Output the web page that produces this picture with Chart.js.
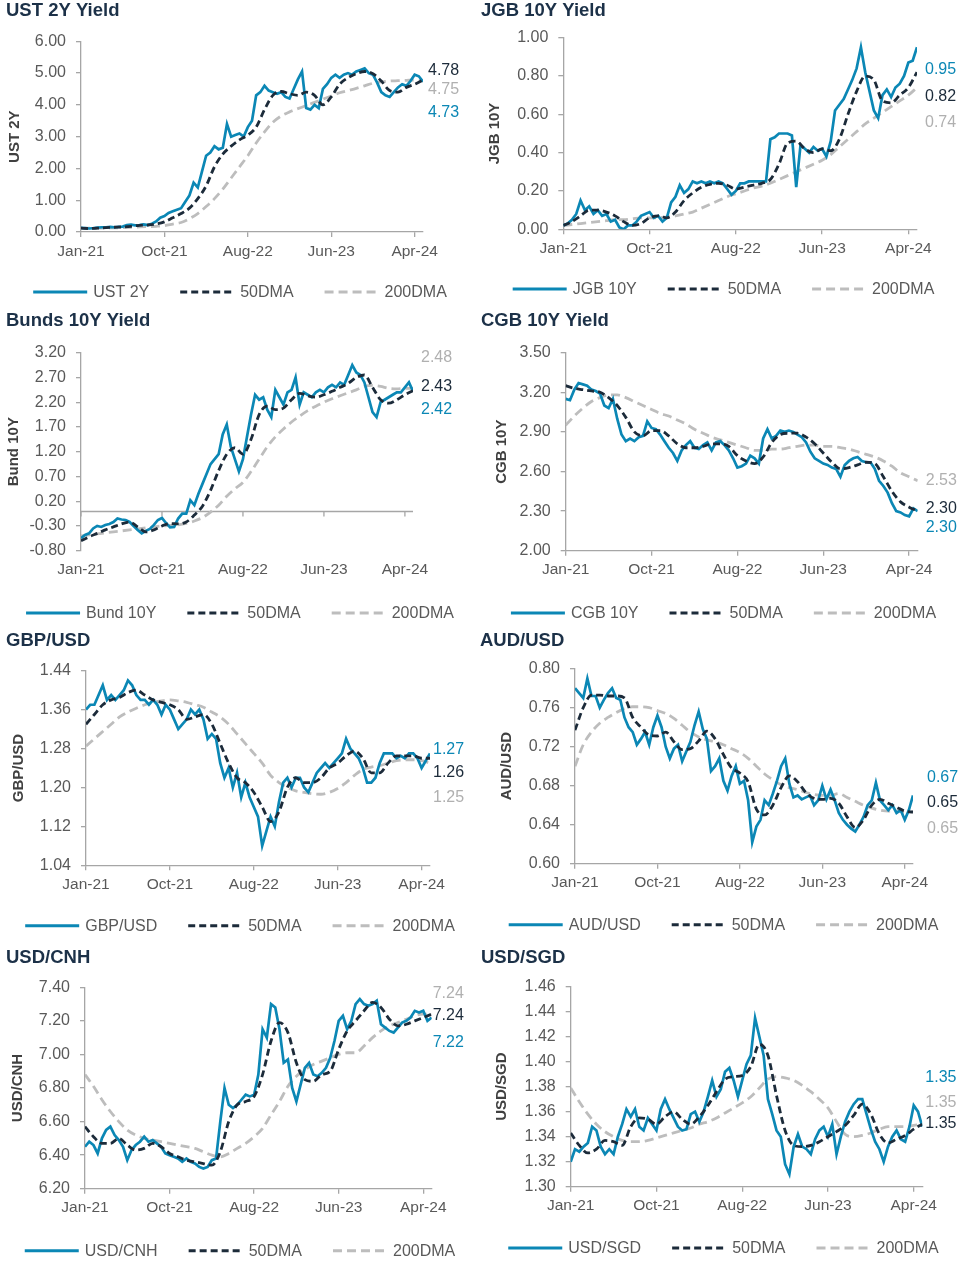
<!DOCTYPE html>
<html><head><meta charset="utf-8">
<script src="https://cdn.jsdelivr.net/npm/chart.js@4.4.1/dist/chart.umd.min.js"></script>
<style>
html,body{margin:0;padding:0;background:#fff;}
body{width:969px;height:1273px;position:relative;overflow:hidden;}
.p{position:absolute;}
</style></head><body>
<div id="wrap"></div>
<script>
// ---------- tick labels (x axis, one every 20 points) ----------
const xTickLabels = ['Jan-21','Oct-21','Aug-22','Jun-23','Apr-24'];

// ---------- UST 2Y ----------
const ust2y = [0.13,0.12,0.11,0.12,0.14,0.15,0.15,0.16,0.15,0.16,
 0.17,0.22,0.23,0.21,0.22,0.24,0.22,0.26,0.33,0.45,
 0.50,0.60,0.65,0.70,0.75,0.95,1.15,1.55,1.40,1.90,
 2.40,2.50,2.70,2.60,2.65,3.40,3.00,3.05,3.10,3.00,
 3.30,3.50,4.30,4.40,4.60,4.45,4.40,4.35,4.40,4.25,
 4.20,4.50,4.80,5.05,3.90,3.85,4.00,3.90,4.50,4.65,
 4.85,4.95,4.85,4.95,5.00,4.95,5.05,5.10,5.15,5.00,
 4.95,4.70,4.40,4.30,4.25,4.40,4.55,4.65,4.60,4.75,
 4.95,4.90,4.73];
const ust2y50 = [0.12,0.11,0.12,0.14,0.15,0.16,0.18,0.21,0.22,0.25,
 0.32,0.45,0.58,0.75,1.05,1.45,2.05,2.45,2.70,2.90,
 3.05,3.30,3.85,4.30,4.42,4.35,4.30,4.40,4.30,4.00,
 4.25,4.65,4.85,4.98,5.05,4.98,4.75,4.45,4.40,4.55,
 4.65,4.78];
const ust2y200 = [0.12,0.12,0.12,0.13,0.13,0.14,0.15,0.16,0.17,0.18,
 0.20,0.25,0.30,0.42,0.58,0.80,1.05,1.35,1.70,2.05,
 2.40,2.80,3.15,3.45,3.65,3.78,3.88,3.98,4.08,4.18,
 4.28,4.38,4.45,4.52,4.60,4.68,4.72,4.75,4.76,4.77,
 4.78,4.75];

// ---------- JGB 10Y ----------
const jgb10y = [0.02,0.03,0.05,0.08,0.15,0.10,0.12,0.08,0.10,0.07,
 0.08,0.04,0.05,0.01,0.00,0.02,0.02,0.04,0.07,0.08,
 0.09,0.06,0.07,0.04,0.06,0.14,0.17,0.23,0.19,0.21,
 0.25,0.24,0.25,0.24,0.25,0.24,0.25,0.24,0.21,0.18,
 0.20,0.24,0.24,0.25,0.25,0.25,0.25,0.25,0.47,0.48,
 0.50,0.50,0.50,0.49,0.22,0.44,0.42,0.40,0.43,0.41,
 0.42,0.38,0.46,0.62,0.65,0.68,0.73,0.78,0.84,0.95,
 0.82,0.72,0.62,0.58,0.70,0.73,0.69,0.74,0.76,0.80,
 0.87,0.88,0.95];
const jgb10y50 = [0.02,0.04,0.07,0.10,0.10,0.09,0.07,0.04,0.02,0.03,
 0.06,0.07,0.06,0.09,0.15,0.19,0.22,0.235,0.24,0.23,
 0.21,0.22,0.23,0.24,0.26,0.34,0.45,0.46,0.42,0.40,
 0.42,0.41,0.47,0.60,0.72,0.80,0.78,0.67,0.66,0.70,
 0.74,0.82];
const jgb10y200 = [0.02,0.025,0.03,0.035,0.04,0.045,0.05,0.05,0.055,0.06,
 0.06,0.06,0.065,0.07,0.08,0.09,0.11,0.13,0.15,0.17,
 0.185,0.20,0.215,0.225,0.24,0.26,0.28,0.30,0.32,0.34,
 0.36,0.39,0.43,0.47,0.51,0.55,0.58,0.61,0.64,0.67,
 0.70,0.74];

// ---------- Bund 10Y ----------
const bund10y = [-0.55,-0.48,-0.45,-0.35,-0.30,-0.32,-0.28,-0.26,-0.22,-0.15,
 -0.17,-0.18,-0.22,-0.30,-0.38,-0.45,-0.40,-0.36,-0.28,-0.18,
 -0.14,-0.24,-0.33,-0.32,-0.15,-0.05,-0.05,0.22,0.12,0.35,
 0.55,0.75,0.95,1.05,1.15,1.55,1.75,1.30,1.05,0.80,
 1.05,1.50,1.95,2.35,2.25,2.30,2.05,1.90,2.45,2.30,
 2.15,2.40,2.45,2.70,2.15,2.40,2.35,2.30,2.40,2.45,
 2.40,2.50,2.55,2.50,2.60,2.55,2.75,2.95,2.80,2.75,
 2.60,2.30,2.00,1.90,2.20,2.25,2.30,2.35,2.40,2.40,
 2.50,2.60,2.42];
const bund10y50 = [-0.60,-0.52,-0.45,-0.38,-0.32,-0.26,-0.22,-0.32,-0.42,-0.38,
 -0.30,-0.25,-0.26,-0.22,-0.08,0.10,0.42,0.82,1.15,1.28,
 1.15,1.45,1.95,2.12,2.05,2.08,2.25,2.38,2.33,2.30,
 2.35,2.42,2.50,2.58,2.70,2.75,2.50,2.25,2.18,2.25,
 2.35,2.43];
const bund10y200 = [-0.50,-0.48,-0.46,-0.44,-0.42,-0.40,-0.38,-0.36,-0.34,-0.32,
 -0.30,-0.29,-0.28,-0.25,-0.20,-0.13,-0.02,0.12,0.30,0.45,
 0.58,0.80,1.05,1.30,1.50,1.66,1.80,1.92,2.03,2.12,
 2.20,2.27,2.33,2.39,2.45,2.52,2.54,2.52,2.48,2.47,
 2.48,2.48];

// ---------- CGB 10Y ----------
const cgb10y = [3.15,3.14,3.22,3.27,3.26,3.25,3.22,3.21,3.19,3.10,
 3.08,3.15,3.00,2.88,2.83,2.85,2.83,2.86,2.87,2.98,
 2.93,2.92,2.88,2.83,2.78,2.74,2.68,2.76,2.80,2.83,
 2.78,2.77,2.80,2.82,2.76,2.82,2.83,2.80,2.76,2.70,
 2.63,2.64,2.66,2.72,2.70,2.66,2.85,2.92,2.85,2.87,
 2.91,2.90,2.91,2.90,2.88,2.86,2.82,2.75,2.70,2.68,
 2.66,2.65,2.63,2.62,2.56,2.65,2.68,2.70,2.71,2.68,
 2.67,2.67,2.62,2.53,2.49,2.44,2.36,2.30,2.29,2.27,
 2.26,2.32,2.30];
const cgb10y50 = [3.25,3.23,3.22,3.21,3.20,3.16,3.10,3.01,2.90,2.87,
 2.91,2.91,2.87,2.81,2.78,2.78,2.79,2.81,2.81,2.79,
 2.72,2.68,2.66,2.71,2.82,2.88,2.89,2.89,2.86,2.81,
 2.74,2.67,2.62,2.63,2.65,2.67,2.66,2.56,2.45,2.37,
 2.33,2.30];
const cgb10y200 = [2.95,3.02,3.08,3.13,3.16,3.18,3.18,3.16,3.13,3.10,
 3.07,3.04,3.02,2.99,2.96,2.92,2.89,2.86,2.84,2.82,
 2.80,2.78,2.76,2.76,2.77,2.77,2.78,2.79,2.80,2.80,
 2.79,2.79,2.78,2.77,2.75,2.73,2.71,2.68,2.64,2.59,
 2.56,2.53];

// ---------- GBP/USD ----------
const gbpusd = [1.36,1.37,1.37,1.39,1.41,1.38,1.39,1.38,1.39,1.40,
 1.42,1.41,1.39,1.38,1.38,1.37,1.38,1.37,1.35,1.37,
 1.36,1.34,1.32,1.33,1.34,1.36,1.35,1.36,1.34,1.30,
 1.31,1.30,1.25,1.22,1.24,1.20,1.23,1.18,1.21,1.18,
 1.16,1.14,1.08,1.11,1.14,1.12,1.17,1.21,1.22,1.20,
 1.22,1.22,1.20,1.19,1.21,1.23,1.24,1.25,1.24,1.25,
 1.26,1.27,1.30,1.28,1.27,1.26,1.24,1.21,1.21,1.22,
 1.25,1.27,1.27,1.27,1.26,1.265,1.26,1.27,1.27,1.26,
 1.24,1.255,1.27];
const gbpusd50 = [1.33,1.35,1.37,1.38,1.385,1.395,1.40,1.39,1.38,1.375,
 1.37,1.36,1.34,1.345,1.35,1.33,1.29,1.25,1.22,1.21,
 1.19,1.16,1.13,1.15,1.20,1.22,1.21,1.21,1.22,1.24,
 1.25,1.265,1.275,1.26,1.23,1.23,1.25,1.265,1.265,1.265,
 1.26,1.26];
const gbpusd200 = [1.285,1.30,1.315,1.33,1.345,1.355,1.363,1.37,1.375,1.378,
 1.38,1.378,1.375,1.37,1.365,1.355,1.345,1.33,1.31,1.29,
 1.27,1.25,1.225,1.21,1.20,1.193,1.19,1.187,1.186,1.19,
 1.198,1.21,1.225,1.237,1.242,1.245,1.25,1.255,1.257,1.257,
 1.255,1.25];

// ---------- AUD/USD ----------
const audusd = [0.780,0.775,0.770,0.790,0.772,0.772,0.760,0.768,0.775,0.780,
 0.770,0.768,0.750,0.740,0.735,0.722,0.728,0.735,0.722,0.740,
 0.752,0.740,0.720,0.708,0.718,0.722,0.705,0.715,0.725,0.742,
 0.756,0.738,0.728,0.695,0.700,0.708,0.685,0.675,0.690,0.700,
 0.682,0.685,0.665,0.622,0.638,0.645,0.665,0.660,0.672,0.685,
 0.700,0.708,0.682,0.668,0.670,0.666,0.668,0.670,0.660,0.665,
 0.680,0.666,0.676,0.665,0.652,0.645,0.640,0.636,0.633,0.640,
 0.648,0.660,0.665,0.683,0.665,0.660,0.655,0.660,0.652,0.655,
 0.645,0.655,0.670];
const audusd50 = [0.737,0.760,0.773,0.773,0.772,0.772,0.770,0.750,0.740,0.732,
 0.731,0.735,0.725,0.717,0.718,0.726,0.736,0.728,0.712,0.698,
 0.693,0.684,0.656,0.650,0.660,0.678,0.690,0.684,0.673,0.667,
 0.666,0.667,0.662,0.648,0.637,0.645,0.660,0.666,0.662,0.658,
 0.654,0.653];
const audusd200 = [0.700,0.722,0.735,0.744,0.750,0.755,0.759,0.761,0.761,0.760,
 0.757,0.754,0.749,0.742,0.735,0.730,0.727,0.725,0.722,0.718,
 0.714,0.708,0.700,0.692,0.686,0.681,0.678,0.676,0.673,0.671,
 0.670,0.670,0.672,0.668,0.664,0.660,0.657,0.655,0.654,0.654,
 0.653,0.653];

// ---------- USD/CNH ----------
const usdcnh = [6.45,6.48,6.46,6.41,6.50,6.55,6.57,6.52,6.49,6.45,
 6.37,6.43,6.46,6.48,6.51,6.48,6.49,6.47,6.45,6.41,
 6.40,6.39,6.38,6.36,6.38,6.36,6.35,6.33,6.32,6.33,
 6.37,6.38,6.60,6.80,6.70,6.68,6.70,6.73,6.76,6.75,
 6.76,6.88,7.15,7.10,7.30,7.28,7.15,6.95,6.97,6.80,
 6.72,6.82,6.92,6.95,6.88,6.87,6.89,6.92,6.98,7.08,
 7.20,7.23,7.15,7.20,7.30,7.33,7.30,7.29,7.30,7.32,
 7.18,7.16,7.14,7.13,7.16,7.19,7.20,7.22,7.26,7.25,
 7.26,7.20,7.22];
const usdcnh50 = [6.57,6.51,6.47,6.47,6.50,6.46,6.43,6.44,6.47,6.45,
 6.41,6.39,6.37,6.36,6.35,6.34,6.42,6.60,6.70,6.72,
 6.75,6.88,7.08,7.19,7.13,6.95,6.85,6.84,6.88,6.90,
 7.03,7.14,7.20,7.26,7.31,7.28,7.21,7.17,7.18,7.20,
 7.22,7.24];
const usdcnh200 = [6.88,6.81,6.73,6.66,6.60,6.55,6.52,6.50,6.49,6.48,
 6.47,6.46,6.45,6.44,6.42,6.40,6.39,6.41,6.44,6.47,
 6.51,6.56,6.64,6.72,6.81,6.87,6.91,6.94,6.96,6.98,
 7.00,7.01,7.01,7.05,7.10,7.14,7.17,7.19,7.21,7.23,
 7.24,7.24];

// ---------- USD/SGD ----------
const usdsgd = [1.320,1.330,1.328,1.332,1.335,1.348,1.345,1.332,1.326,1.330,
 1.326,1.340,1.350,1.362,1.356,1.362,1.348,1.345,1.355,1.350,
 1.345,1.362,1.370,1.362,1.355,1.348,1.345,1.346,1.358,1.360,
 1.352,1.360,1.372,1.385,1.372,1.378,1.392,1.395,1.385,1.372,
 1.385,1.398,1.405,1.435,1.420,1.405,1.370,1.358,1.345,1.340,
 1.318,1.310,1.332,1.342,1.332,1.330,1.326,1.338,1.345,1.348,
 1.340,1.350,1.326,1.340,1.352,1.360,1.366,1.370,1.370,1.358,
 1.346,1.336,1.330,1.320,1.332,1.340,1.345,1.338,1.336,1.348,
 1.365,1.360,1.348];
const usdsgd50 = [1.343,1.333,1.327,1.330,1.337,1.336,1.333,1.348,1.355,1.354,
 1.350,1.356,1.360,1.354,1.350,1.356,1.365,1.376,1.386,1.388,
 1.389,1.396,1.414,1.405,1.373,1.345,1.333,1.332,1.333,1.336,
 1.340,1.344,1.349,1.357,1.366,1.358,1.342,1.335,1.338,1.341,
 1.346,1.350];
const usdsgd200 = [1.379,1.368,1.358,1.350,1.344,1.340,1.337,1.336,1.336,1.337,
 1.339,1.341,1.343,1.345,1.347,1.350,1.352,1.355,1.359,1.363,
 1.367,1.372,1.379,1.386,1.388,1.387,1.385,1.381,1.376,1.370,
 1.363,1.352,1.342,1.340,1.341,1.343,1.346,1.348,1.348,1.348,
 1.349,1.350];

// ---------- styling ----------
const BLUE = '#0b87b5', DARK = '#1c2b3a', GRAY = '#bdbdbd';
const LBL_GRAY = '#b0b0b0';
const AXIS = '#a6a6a6', TICK = '#595959', TITLE = '#1c3148';
const FONT = "'Liberation Sans', Arial, Helvetica, sans-serif";
Chart.defaults.font.family = FONT;

// ---------- panels (series + layout) ----------
const panels = [
 {title:'UST 2Y Yield', yTitle:'UST 2Y', name:'UST 2Y', main:ust2y, d50:ust2y50, d200:ust2y200, min:0, max:6, step:1,
  box:{l:0,t:0,w:480,h:310}, plot:{l:81,t:41.3,r:423,b:232}, legendY:292, titleX:6, titleY:11, yTitleX:15, labelDx:5,
  labels:[['d',29],['g',48],['m',71]]},
 {title:'JGB 10Y Yield', yTitle:'JGB 10Y', name:'JGB 10Y', main:jgb10y, d50:jgb10y50, d200:jgb10y200, min:0, max:1, step:0.2,
  box:{l:478,t:0,w:491,h:310}, plot:{l:563.3,t:37.7,r:917,b:229.3}, legendY:289, titleX:481, titleY:11, yTitleX:495, labelDx:8,
  labels:[['m',32],['d',59],['g',85]]},
 {title:'Bunds 10Y Yield', yTitle:'Bund 10Y', name:'Bund 10Y', main:bund10y, d50:bund10y50, d200:bund10y200, min:-0.8, max:3.2, step:0.5,
  box:{l:0,t:310,w:480,h:318}, plot:{l:81,t:352.7,r:413,b:550.7}, legendY:613, titleX:6, titleY:321, yTitleX:14, labelDx:8,
  labels:[['g',5],['d',34],['m',57]], zero:true},
 {title:'CGB 10Y Yield', yTitle:'CGB 10Y', name:'CGB 10Y', main:cgb10y, d50:cgb10y50, d200:cgb10y200, min:2.0, max:3.5, step:0.3,
  box:{l:478,t:310,w:491,h:318}, plot:{l:565.7,t:352.7,r:917.7,b:550.7}, legendY:613, titleX:481, titleY:321, yTitleX:502, labelDx:8,
  labels:[['g',128],['d',156],['m',175]]},
 {title:'GBP/USD', yTitle:'GBP/USD', name:'GBP/USD', main:gbpusd, d50:gbpusd50, d200:gbpusd200, min:1.04, max:1.44, step:0.08,
  box:{l:0,t:628,w:480,h:315}, plot:{l:86,t:670.7,r:430,b:865.3}, legendY:925.7, titleX:6, titleY:641, yTitleX:19, labelDx:3,
  labels:[['m',79],['d',102],['g',127]]},
 {title:'AUD/USD', yTitle:'AUD/USD', name:'AUD/USD', main:audusd, d50:audusd50, d200:audusd200, min:0.60, max:0.80, step:0.04,
  box:{l:478,t:628,w:491,h:315}, plot:{l:575,t:668.7,r:913,b:863.7}, legendY:924.7, titleX:480, titleY:641, yTitleX:506.7, labelDx:14,
  labels:[['m',109],['d',134],['g',160]]},
 {title:'USD/CNH', yTitle:'USD/CNH', name:'USD/CNH', main:usdcnh, d50:usdcnh50, d200:usdcnh200, min:6.2, max:7.4, step:0.2,
  box:{l:0,t:943,w:480,h:330}, plot:{l:85,t:987.3,r:431.7,b:1188.7}, legendY:1250.7, titleX:6, titleY:958, yTitleX:18, labelDx:1,
  labels:[['g',6],['d',28],['m',55]]},
 {title:'USD/SGD', yTitle:'USD/SGD', name:'USD/SGD', main:usdsgd, d50:usdsgd50, d200:usdsgd200, min:1.30, max:1.46, step:0.02,
  box:{l:478,t:943,w:491,h:330}, plot:{l:570.7,t:986.7,r:922.3,b:1186.7}, legendY:1248, titleX:481, titleY:958, yTitleX:501.7, labelDx:3,
  labels:[['m',91],['g',116],['d',137]]}
];

const XH = 40; // x-scale box height

function makeDecor(p) {
  return {
    id: 'decor',
    beforeDatasetsDraw(chart) {
      if (!p.zero) return;
      const {ctx, chartArea: a, scales: {x, y}} = chart;
      const py = Math.round(y.getPixelForValue(0)) + 0.5;
      ctx.save();
      ctx.strokeStyle = AXIS; ctx.lineWidth = 1.3;
      ctx.beginPath();
      ctx.moveTo(a.left, py); ctx.lineTo(a.right, py);
      x.ticks.forEach(t => {
        const px = x.getPixelForValue(t.value);
        ctx.moveTo(px, py); ctx.lineTo(px, py + 5);
      });
      ctx.stroke();
      ctx.restore();
    },
    afterDraw(chart) {
      const {ctx, chartArea: a} = chart;
      const W = chart.width;
      ctx.save();
      // title
      ctx.font = 'bold 18.5px ' + FONT;
      ctx.fillStyle = TITLE;
      ctx.textBaseline = 'middle';
      ctx.textAlign = 'left';
      ctx.fillText(p.title, p.titleX - p.box.l, p.titleY - p.box.t);
      // end labels (last value of each series)
      const series = {m: [p.main, BLUE], d: [p.d50, DARK], g: [p.d200, LBL_GRAY]};
      ctx.font = '16px ' + FONT;
      p.labels.forEach(([k, dy]) => {
        const [arr, col] = series[k];
        ctx.fillStyle = col;
        ctx.fillText(arr[arr.length - 1].toFixed(2), a.right + p.labelDx, a.top + dy);
      });
      // legend (in dataset order: main, 50DMA, 200DMA)
      const items = [...chart.data.datasets].sort((u, v) => u.legendIdx - v.legendIdx)
        .map(ds => ({text: ds.label, color: ds.borderColor, dash: ds.borderDash || []}));
      const lineLen = 54, txtGap = 6, itemGap = 31;
      const widths = items.map(it => lineLen + txtGap + ctx.measureText(it.text).width);
      const total = widths.reduce((s, w) => s + w, 0) + itemGap * (items.length - 1);
      let x = W / 2 - total / 2;
      const ly = p.legendY - p.box.t;
      items.forEach((it, i) => {
        ctx.strokeStyle = it.color;
        ctx.lineWidth = 3;
        ctx.setLineDash(it.dash);
        ctx.beginPath(); ctx.moveTo(x, ly); ctx.lineTo(x + lineLen, ly); ctx.stroke();
        ctx.setLineDash([]);
        ctx.fillStyle = TICK;
        ctx.fillText(it.text, x + lineLen + txtGap, ly + 1);
        x += widths[i] + itemGap;
      });
      ctx.restore();
    }
  };
}

const wrap = document.getElementById('wrap');
panels.forEach(p => {
  const div = document.createElement('div');
  div.className = 'p';
  div.style.left = p.box.l + 'px'; div.style.top = p.box.t + 'px';
  div.style.width = p.box.w + 'px'; div.style.height = p.box.h + 'px';
  const cv = document.createElement('canvas');
  cv.width = p.box.w; cv.height = p.box.h;
  cv.style.width = p.box.w + 'px'; cv.style.height = p.box.h + 'px';
  div.appendChild(cv); wrap.appendChild(div);

  const padTop = p.plot.t - p.box.t;
  const padRight = p.box.l + p.box.w - p.plot.r;
  const padBottom = p.box.h - (p.plot.b - p.box.t) - XH;
  const yW = p.plot.l - p.box.l;

  new Chart(cv, {
    type: 'line',
    data: {
      datasets: [
        {label: p.name, legendIdx: 0, data: p.main.map((v, i) => ({x: i, y: v})), borderColor: BLUE, borderWidth: 2.7,
         pointRadius: 0, tension: 0, order: 1},
        {label: '50DMA', legendIdx: 1, data: p.d50.map((v, i) => ({x: i * 2, y: v})), borderColor: DARK, borderWidth: 2.8,
         borderDash: [7, 4], pointRadius: 0, cubicInterpolationMode: 'monotone', order: 0},
        {label: '200DMA', legendIdx: 2, data: p.d200.map((v, i) => ({x: i * 2, y: v})), borderColor: GRAY, borderWidth: 2.8,
         borderDash: [9, 5], pointRadius: 0, cubicInterpolationMode: 'monotone', order: 2}
      ]
    },
    options: {
      responsive: false, animation: false, devicePixelRatio: 1,
      layout: {padding: {left: 0, top: padTop, right: padRight, bottom: padBottom}},
      plugins: {legend: {display: false}, tooltip: {enabled: false}, title: {display: false}},
      scales: {
        x: {
          type: 'linear', min: 0, max: p.main.length - 1,
          afterFit: s => { s.height = XH; },
          border: {display: !p.zero, color: AXIS, width: 1.3},
          grid: {drawOnChartArea: false, drawTicks: !p.zero, tickLength: 5, color: AXIS, lineWidth: 1.3},
          ticks: {stepSize: 20, includeBounds: false, autoSkip: false, maxRotation: 0, padding: p.zero ? 10 : 5,
                  color: TICK, font: {size: 15.5}, callback: v => xTickLabels[Math.round(v / 20)] || ''}
        },
        y: {
          min: p.min, max: p.max,
          afterFit: s => { s.width = yW; },
          border: {color: AXIS, width: 1.3},
          grid: {drawOnChartArea: false, tickLength: 5, color: AXIS, lineWidth: 1.3},
          ticks: {stepSize: p.step, padding: 10, color: TICK, font: {size: 16}, callback: v => Number(v).toFixed(2)},
          title: {display: true, text: p.yTitle, color: '#404040', font: {size: 15, weight: 'bold'},
                  padding: {top: p.yTitleX - p.box.l - 9, bottom: 0}}
        }
      }
    },
    plugins: [makeDecor(p)]
  });
});
</script>
</body></html>
